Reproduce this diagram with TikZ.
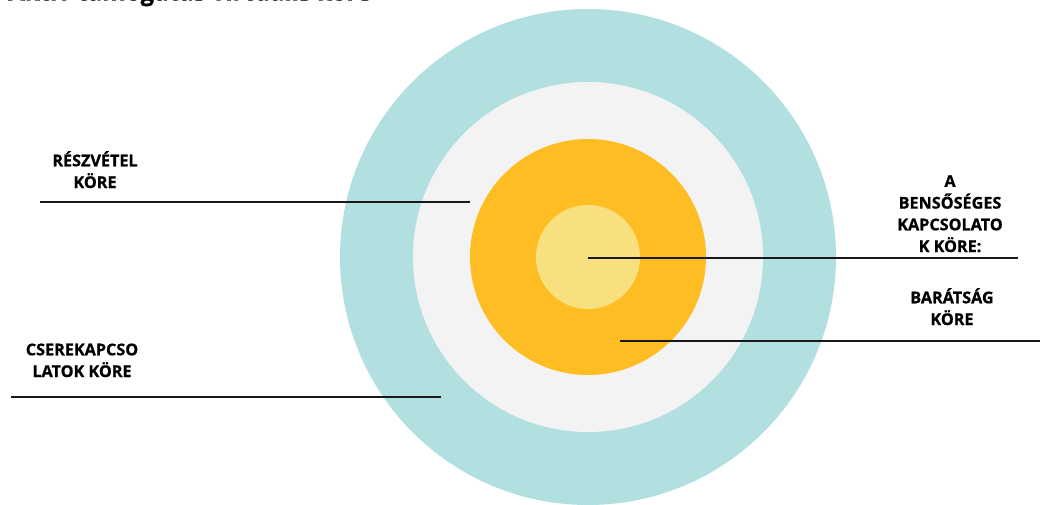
\documentclass[tikz,border=0pt]{standalone}
\usepackage{fontspec}
\setmainfont{Open Sans}
\definecolor{teal1}{HTML}{B2E0E0}
\definecolor{gray1}{HTML}{F3F3F3}
\definecolor{orange1}{HTML}{FFBD24}
\definecolor{yellow1}{HTML}{F9E07F}
\begin{document}
\begin{tikzpicture}[x=1pt,y=-1pt,
  ring/.style={circle,inner sep=0pt,draw=none},
  lbl/.style={align=center,font=\fontsize{16.2}{21.7}\selectfont\bfseries\addfontfeature{FakeBold=0.8},inner sep=0pt,anchor=base},
  leader/.style={line width=2.7pt,black!90}]
\useasboundingbox (0,0) rectangle (1040,505);
\node[anchor=base west,inner sep=0pt,font=\fontsize{24}{28}\selectfont\bfseries\addfontfeature{FakeBold=0.8}] (title) at (8,0.5) {Aktív támogatás virtuális köre};
\node[ring,fill=teal1,minimum size=496pt] (outer) at (588,257) {};
\node[ring,fill=gray1,minimum size=350pt] (gray) at (588,257) {};
\node[ring,fill=orange1,minimum size=236pt] (orange) at (588,257) {};
\node[ring,fill=yellow1,minimum size=104pt] (inner) at (588,257) {};
% labels (anchored at the baseline of the last line)
\node[lbl] (t1) at (95,188) {RÉSZVÉTEL\\KÖRE};
\node[lbl] (t2) at (82,377) {CSEREKAPCSO\\LATOK KÖRE};
\node[lbl] (t3) at (950,252) {A\\BENSŐSÉGES\\KAPCSOLATO\\K KÖRE:};
\node[lbl] (t4) at (952,325) {BARÁTSÁG\\KÖRE};
% leaders
\coordinate (a1) at (40,202); \coordinate (a2) at (470,202);
\coordinate (b1) at (11,397); \coordinate (b2) at (441,397);
\coordinate (c1) at (588,258); \coordinate (c2) at (1018,258);
\coordinate (d1) at (620,341); \coordinate (d2) at (1040,341);
\draw[leader] (a1) -- (a2);
\draw[leader] (b1) -- (b2);
\draw[leader] (c1) -- (c2);
\draw[leader] (d1) -- (d2);
\end{tikzpicture}
\end{document}
